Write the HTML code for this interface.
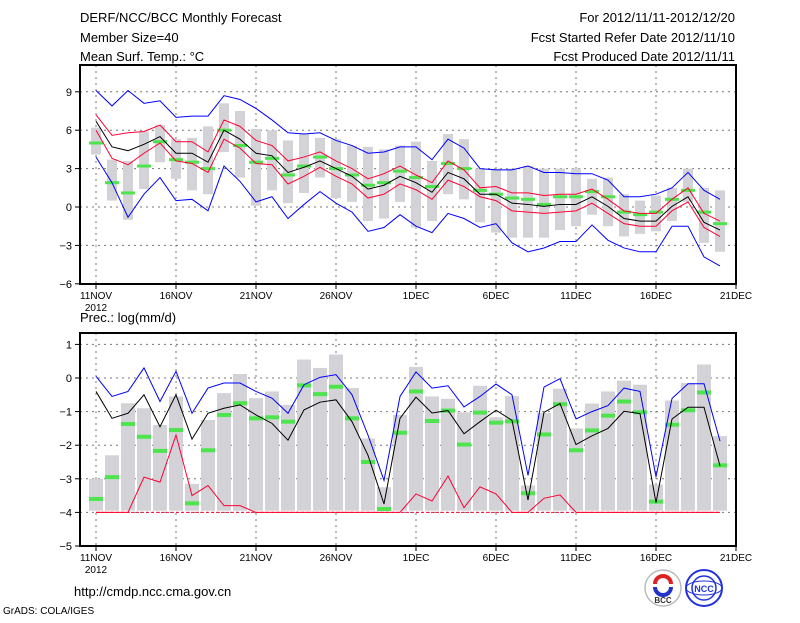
<!DOCTYPE html>
<html><head><meta charset="utf-8">
<style>
body{margin:0;background:#fff;width:800px;height:618px;overflow:hidden;font-family:"Liberation Sans",sans-serif;}
svg text{font-family:"Liberation Sans",sans-serif;}
</style></head>
<body>
<svg id="chart" width="800" height="618" viewBox="0 0 800 618">
<rect width="800" height="618" fill="#fff"/>
<g font-size="13" fill="#000">
<text x="80" y="22">DERF/NCC/BCC Monthly Forecast</text>
<text x="80" y="42">Member Size=40</text>
<text x="80" y="61">Mean Surf. Temp.: °C</text>
<text x="735" y="22" text-anchor="end">For 2012/11/11-2012/12/20</text>
<text x="735" y="42" text-anchor="end">Fcst Started Refer Date 2012/11/10</text>
<text x="735" y="61" text-anchor="end">Fcst Produced Date 2012/11/11</text>
<text x="80" y="322">Prec.: log(mm/d)</text>
<text x="74" y="596">http://cmdp.ncc.cma.gov.cn</text>
<text x="3" y="614" font-size="10">GrADS: COLA/IGES</text>
</g>
<g id="top"></g>
<g id="bot"></g>
<g>
<circle cx="663" cy="588" r="18" fill="#fff" stroke="#bbb" stroke-width="1.5"/>
<path d="M655 584 a8 8 0 0 1 16 0" stroke="#d22" stroke-width="4" fill="none"/>
<path d="M671 587 a8 8 0 0 1 -16 0" stroke="#23c" stroke-width="4" fill="none"/>
<text x="663" y="603" font-size="8" text-anchor="middle" font-weight="bold" fill="#333">BCC</text>
</g>
<g>
<circle cx="704" cy="588" r="18" fill="#fff" stroke="#23d" stroke-width="2"/>
<circle cx="704" cy="588" r="12" fill="none" stroke="#23d" stroke-width="1.5"/>
<ellipse cx="704" cy="588" rx="18" ry="7" fill="none" stroke="#23d" stroke-width="1"/>
<text x="704" y="592" font-size="9" text-anchor="middle" font-weight="bold" fill="#23d">NCC</text>
</g>
</svg>
<script>
// ---- Temperature data (days 11NOV..20DEC) ----
const tBlue_hi=[9.1,7.9,9.1,8.1,8.3,7.0,7.1,7.1,8.7,8.4,7.7,6.8,5.8,5.7,5.8,5.2,4.8,4.2,4.3,4.7,4.7,3.7,5.3,4.6,3.0,2.9,2.9,3.2,2.7,2.7,2.6,2.6,2.1,0.8,0.8,1.0,1.5,2.7,1.3,0.6];
const tBlue_lo=[3.9,1.9,-0.8,1.0,2.3,0.5,0.6,-0.3,3.2,2.0,0.4,0.8,-0.9,0.2,1.2,0.3,-0.4,-1.9,-1.6,-0.6,-1.5,-2.0,-0.5,-0.9,-1.6,-1.3,-2.8,-3.5,-3.2,-2.7,-2.7,-1.4,-2.6,-3.2,-3.5,-3.5,-1.5,-1.5,-3.9,-4.6];
const tRed_hi=[7.2,5.6,5.8,5.9,6.4,5.1,5.1,4.3,6.8,6.3,5.2,4.8,3.6,3.9,4.3,3.6,3.0,2.2,2.6,3.2,2.5,1.9,3.6,2.9,1.5,1.6,1.1,1.1,0.9,1.0,1.0,1.4,0.6,-0.3,-0.5,-0.5,0.6,1.5,-0.5,-1.1];
const tRed_lo=[6.0,3.8,3.3,4.2,5.0,3.6,3.4,2.7,5.3,4.6,3.4,3.3,1.8,2.4,3.1,2.4,1.8,0.7,1.0,1.8,1.35,0.6,2.1,1.6,0.8,0.5,-0.3,-0.4,-0.5,-0.4,-0.3,0.3,-0.5,-1.3,-1.5,-1.5,-0.3,0.4,-1.6,-2.3];
const tMean=[6.7,4.7,4.4,4.9,5.5,4.2,4.2,3.5,6.0,5.3,4.2,4.0,2.7,3.1,3.6,3.0,2.4,1.4,1.7,2.4,1.9,1.15,2.7,2.2,1.0,1.0,0.3,0.2,0.05,0.2,0.2,0.8,0.05,-0.9,-1.1,-1.1,0.05,0.8,-1.2,-1.8];
const tBar_hi=[6.2,3.7,3.6,5.9,6.4,5.3,5.4,6.3,8.1,7.5,6.1,6.0,5.2,5.7,5.4,5.3,4.8,4.7,4.5,4.8,5.1,3.6,5.7,5.3,3.0,3.0,3.0,3.2,3.0,3.0,3.0,2.2,2.3,1.0,0.5,0.9,1.5,3.0,1.5,1.3];
const tBar_lo=[4.1,0.5,-1.0,1.4,3.5,2.2,1.3,1.0,4.3,2.3,0.1,1.3,0.3,1.1,2.3,0.7,0.4,-1.1,-0.9,0.4,-1.6,-1.1,1.0,0.6,-1.2,-2.0,-2.4,-2.4,-2.4,-1.8,-1.5,-0.6,-1.5,-2.3,-2.1,-1.9,-1.1,0.4,-2.8,-3.5];
const tObs=[5.0,1.9,1.1,3.2,5.1,3.7,3.5,3.0,6.0,4.8,3.5,3.8,2.5,3.2,3.9,3.0,2.5,1.7,1.9,2.8,2.3,1.6,3.4,3.0,1.3,1.0,0.7,0.6,0.2,0.8,0.8,1.2,0.8,-0.4,-0.6,-0.4,0.6,1.3,-0.4,-1.3];
const tTicks=[-6,-3,0,3,6,9];
// ---- Precipitation data ----
const pBlue=[0.05,-0.55,-0.4,0.3,-0.7,0.2,-1.05,-0.3,-0.15,-0.15,-0.4,-0.6,-1.05,-0.2,0.02,0.1,-0.5,-1.7,-3.05,-0.55,0.18,-0.3,-0.23,-0.86,-0.55,-0.18,-0.5,-2.9,-0.27,-0.02,-1.22,-1.0,-0.82,-0.3,-0.4,-2.94,-0.61,-0.17,-0.17,-1.88];
const pMean=[-0.4,-1.2,-1.05,-0.5,-1.45,-0.5,-1.82,-1.05,-0.9,-0.8,-1.1,-1.35,-1.85,-0.95,-0.72,-0.65,-1.3,-2.3,-3.75,-1.2,-0.57,-1.04,-0.97,-1.66,-1.3,-0.96,-1.26,-3.63,-1.02,-0.76,-1.98,-1.72,-1.5,-0.99,-1.06,-3.71,-1.22,-0.87,-0.87,-2.62];
const pRed=[-4,-4,-4,-2.95,-3.1,-1.7,-3.5,-3.2,-3.8,-3.8,-4,-4,-4,-4,-4,-4,-4,-4,-4,-4,-3.45,-3.66,-2.92,-3.86,-3.24,-3.45,-4,-4,-3.58,-3.48,-4,-4,-4,-4,-4,-4,-4,-4,-4,-4];
const pBar=[-3.0,-2.3,-0.75,-0.9,-1.4,-0.55,-3.15,-1.25,-0.45,0.12,-0.6,-0.4,-0.8,0.55,0.3,0.7,-0.3,-1.8,-3.25,-1.1,0.33,-0.55,-0.62,-1.02,-0.23,-1.17,-0.54,-3.2,-1.04,-0.32,-1.5,-0.76,-0.4,-0.08,-0.2,-3.17,-0.67,-0.15,0.4,-1.73];
const pObs=[-3.6,-2.95,-1.37,-1.75,-2.17,-1.55,-3.73,-2.15,-1.1,-0.75,-1.2,-1.17,-1.3,-0.22,-0.48,-0.26,-1.2,-2.5,-3.9,-1.63,-0.4,-1.28,-0.97,-1.98,-1.03,-1.33,-1.29,-3.43,-1.68,-0.78,-2.15,-1.56,-1.12,-0.7,-1.02,-3.68,-1.39,-0.96,-0.43,-2.6];
const pTicks=[-5,-4,-3,-2,-1,0,1];
const xLabels=["11NOV","16NOV","21NOV","26NOV","1DEC","6DEC","11DEC","16DEC","21DEC"];

const NS="http://www.w3.org/2000/svg";
const X=i=>96+16*i;
function mk(tag,attrs,parent){const e=document.createElementNS(NS,tag);for(const k in attrs)e.setAttribute(k,attrs[k]);parent.appendChild(e);return e;}
function poly(arr,Y,color,parent,name){
  const e=mk('polyline',{points:arr.map((v,i)=>X(i)+','+Y(v)).join(' '),fill:'none',stroke:color,'stroke-width':1},parent);
  
  
}
function frame(g,top,bot,Y,ticks){
  ticks.forEach(t=>{
    const y=Y(t);
    const l=mk('line',{x1:80,x2:736,y1:y,y2:y,stroke:'#777','stroke-dasharray':'2,4'},g);
    
    
    mk('line',{x1:75,x2:80,y1:y,y2:y,stroke:'#000'},g);
    const tx=mk('text',{x:72,y:y+4,'font-size':11,'text-anchor':'end'},g);tx.textContent=(t<0?'−':'')+Math.abs(t);
    
    
  });
  xLabels.forEach((s,k)=>{
    const x=X(k*5);
    const l=mk('line',{x1:x,x2:x,y1:top,y2:bot,stroke:'#777','stroke-dasharray':'2,4'},g);
    
    
    mk('line',{x1:x,x2:x,y1:bot,y2:bot+5,stroke:'#000'},g);
    const tx=mk('text',{x:x,y:bot+15,'font-size':10,'text-anchor':'middle'},g);tx.textContent=s;
    
    
  });
  const y2=mk('text',{x:96,y:bot+27,'font-size':10,'text-anchor':'middle'},g);y2.textContent='2012';
  
  
}
function border(g,top,bot){
  const r=mk('rect',{x:80,y:top,width:656,height:bot-top,fill:'none',stroke:'#000','stroke-width':2},g);
  
  
}
// Top panel
(function(){
  const g=document.getElementById('top');
  const Y=v=>207-v*12.8;
  frame(g,65,284,Y,tTicks);
  tBar_hi.forEach((h,i)=>{
    const r=mk('rect',{x:X(i)-5,y:Y(h),width:10,height:Y(tBar_lo[i])-Y(h),fill:'#d3d3d7'},g);
    
    
  });
  tObs.forEach((v,i)=>{
    const r=mk('rect',{x:X(i)-7,y:Y(v)-1.5,width:14,height:3,fill:'#4de44d'},g);
    
    
  });
  poly(tBlue_hi,Y,'#0000ff',g,'max-line');
  poly(tBlue_lo,Y,'#0000ff',g,'min-line');
  poly(tRed_hi,Y,'#ff0033',g,'upper-line');
  poly(tRed_lo,Y,'#ff0033',g,'lower-line');
  poly(tMean,Y,'#000',g,'mean-line');
  border(g,65,284);
})();
// Bottom panel
(function(){
  const g=document.getElementById('bot');
  const Y=v=>378-v*33.6;
  frame(g,333,546,Y,pTicks);
  pBar.forEach((h,i)=>{
    const r=mk('rect',{x:X(i)-7,y:Y(h),width:14,height:Y(-3.95)-Y(h),fill:'#d3d3d7'},g);
    
    
  });
  const d=mk('line',{x1:X(0),x2:X(39),y1:Y(-4),y2:Y(-4),stroke:'#ff0033','stroke-dasharray':'3,2'},g);
  
  
  pObs.forEach((v,i)=>{
    const r=mk('rect',{x:X(i)-7,y:Y(v)-2,width:14,height:4,fill:'#4de44d'},g);
    
    
  });
  poly(pRed,Y,'#ff0033',g,'min-line');
  poly(pBlue,Y,'#0000ff',g,'max-line');
  poly(pMean,Y,'#000',g,'mean-line');
  border(g,333,546);
})();
</script>
</body></html>
